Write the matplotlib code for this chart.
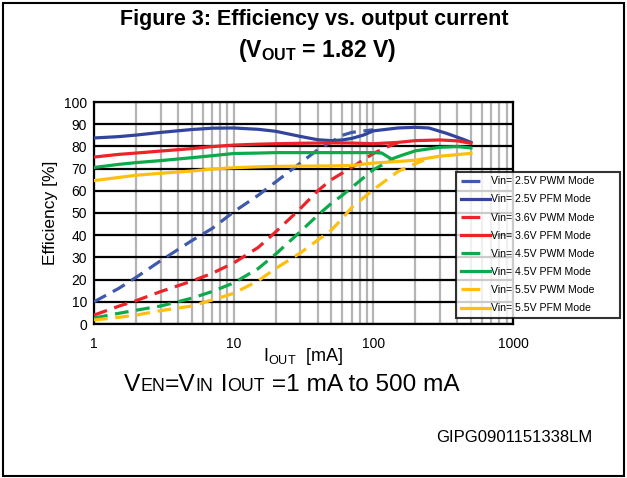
import numpy as np
import matplotlib
matplotlib.use("Agg")
import matplotlib.pyplot as plt
from matplotlib import font_manager
from matplotlib.lines import Line2D
from matplotlib.patches import Rectangle

# output current [mA] and efficiency [%]
cur_25_pwm = [1, 1.5, 2, 3, 5, 7, 10, 15, 20, 30, 40, 50, 60, 70, 100]
eff_25_pwm = [10, 16, 21, 28.5, 37.5, 43, 50.5, 58, 64, 72.5, 78.5, 82, 85, 86.3, 87.5]
cur_25_pfm = [1, 1.5, 2, 3, 5, 7, 10, 15, 20, 30, 40, 50, 60, 70, 85, 100, 150, 200, 250, 330, 440, 500]
eff_25_pfm = [83.8, 84.4, 85.1, 86.3, 87.6, 88.2, 88.3, 87.7, 86.8, 84.5, 83, 82.6, 82.9, 83.6, 85.1, 87, 88.3, 88.6, 88.3, 86, 83.2, 81.8]

cur_36_pwm = [1, 1.5, 2, 3, 5, 7, 10, 15, 20, 30, 40, 50, 60, 70, 100, 130, 150]
eff_36_pwm = [4, 8, 10.5, 14.6, 19.3, 22.8, 27.5, 34.5, 41.5, 52, 60, 65, 68, 70.5, 76.8, 80.2, 81.6]
cur_36_pfm = [1, 1.5, 2, 3, 5, 7, 10, 15, 20, 30, 50, 70, 100, 150, 200, 300, 400, 500]
eff_36_pfm = [75.2, 76.4, 77, 77.9, 79, 79.9, 80.6, 81, 81.2, 81.4, 81.6, 81.5, 81.2, 81.8, 82.6, 82.9, 82.5, 81.4]

cur_45_pwm = [1, 1.5, 2, 3, 5, 7, 10, 15, 20, 30, 40, 50, 60, 70, 100, 130, 140]
eff_45_pwm = [2.7, 4.8, 6.2, 8.1, 11.6, 14.6, 18.5, 25, 31.5, 41.6, 49, 54.3, 58, 61.5, 69.5, 73.4, 74.4]
cur_45_pfm = [1, 1.5, 2, 3, 5, 7, 10, 15, 20, 30, 50, 70, 100, 115, 135, 160, 200, 300, 400, 500]
eff_45_pfm = [70.5, 71.9, 72.7, 73.6, 74.9, 75.8, 76.8, 77, 77.2, 77.2, 77.2, 77.2, 77.2, 77, 74.3, 76, 78, 79.6, 79.9, 79.3]

cur_55_pwm = [1, 1.5, 2, 3, 5, 7, 10, 15, 20, 30, 40, 50, 60, 70, 100, 150, 190, 230]
eff_55_pwm = [1.8, 3, 4, 6, 8.1, 10.8, 13.8, 19.5, 25, 32, 37.8, 42.3, 47.5, 52.5, 60.5, 68.7, 71.6, 73.8]
cur_55_pfm = [1, 1.5, 2, 3, 5, 7, 10, 15, 20, 30, 50, 70, 100, 150, 200, 300, 400, 500]
eff_55_pfm = [64.6, 66, 67, 67.9, 68.9, 69.8, 70.4, 70.8, 71, 71.1, 71.2, 71.4, 72.5, 73.2, 73.8, 75.6, 76.3, 76.9]

labels = ["Vin= 2.5V PWM Mode", "Vin= 2.5V PFM Mode",
          "Vin= 3.6V PWM Mode", "Vin= 3.6V PFM Mode",
          "Vin= 4.5V PWM Mode", "Vin= 4.5V PFM Mode",
          "Vin= 5.5V PWM Mode", "Vin= 5.5V PFM Mode"]
x_ticks = [1, 10, 100, 1000]
y_ticks = list(range(0, 101, 10))

names = {f.name for f in font_manager.fontManager.ttflist}
base = "Liberation Sans"
narrow = "Liberation Sans Narrow" if "Liberation Sans Narrow" in names else base

plt.rcParams["font.family"] = [base, "DejaVu Sans"]
plt.rcParams["mathtext.fontset"] = "custom"
plt.rcParams["mathtext.rm"] = base
plt.rcParams["mathtext.bf"] = base + ":bold"

fig = plt.figure(figsize=(6.27, 4.78), dpi=100)
W, H = 627, 478
ax = fig.add_axes([94 / W, 1 - 324 / H, (513 - 94) / W, (324 - 102) / H])

blue = "#33449c"
blue_d = "#3f5aac"
red = "#ee2229"
green = "#0caa4b"
yellow = "#ffbf0f"
lw = 2.3
dash = (4.3, 2.4)

series = [
    (cur_25_pwm, eff_25_pwm, blue_d, True),
    (cur_25_pfm, eff_25_pfm, blue, False),
    (cur_36_pwm, eff_36_pwm, red, True),
    (cur_36_pfm, eff_36_pfm, red, False),
    (cur_45_pwm, eff_45_pwm, green, True),
    (cur_45_pfm, eff_45_pfm, green, False),
    (cur_55_pwm, eff_55_pwm, yellow, True),
    (cur_55_pfm, eff_55_pfm, yellow, False),
]
handles = []
for xs, ys, c, dashed in series:
    if dashed:
        ax.plot(xs, ys, color=c, lw=lw, dashes=dash, solid_capstyle="butt", zorder=3)
        handles.append(Line2D([], [], color=c, lw=lw, linestyle=(0, (5.9, 40))))
    else:
        ax.plot(xs, ys, color=c, lw=lw, zorder=3)
        handles.append(Line2D([], [], color=c, lw=lw))

ax.set_xscale("log")
ax.set_xlim(1, 1000)
ax.set_ylim(0, 100)
ax.set_xticks(x_ticks)
ax.set_xticklabels([str(v) for v in x_ticks])
ax.set_xticks([m * 10 ** d for d in range(3) for m in range(2, 10)], minor=True)
ax.set_yticks(y_ticks)
ax.tick_params(axis="both", which="both", length=0, labelsize=10)
ax.tick_params(axis="x", pad=9)
ax.tick_params(axis="y", pad=5)
ax.xaxis.set_minor_formatter(matplotlib.ticker.NullFormatter())
ax.grid(True, axis="x", which="both", color="#b5b5b5", lw=1.6, zorder=1)
ax.grid(True, axis="y", which="major", color="black", lw=1.6, zorder=1)
ax.set_axisbelow(True)
for s in ax.spines.values():
    s.set_linewidth(1.6)

ax.set_ylabel("Efficiency [%]", fontsize=12.5, labelpad=4)
ax.set_xlabel(r"I$_{\mathrm{OUT}}$  [mA]", fontsize=13, labelpad=-3)

leg = fig.legend(handles, labels, loc="lower left",
                 bbox_to_anchor=(456 / W, 1 - 318 / H, 164 / W, 147 / H),
                 mode="expand", fontsize=7.6, frameon=True, fancybox=False,
                 handlelength=2.75, handletextpad=0.1, labelspacing=0.77,
                 borderpad=0.45, borderaxespad=0)
leg.get_frame().set_edgecolor("black")
leg.get_frame().set_linewidth(1.5)

fig.text(314 / W, 1 - 20 / H, "Figure 3: Efficiency vs. output current",
         ha="center", va="center", fontsize=15.5, fontweight="bold", family=narrow)
fig.text(317 / W, 1 - 51 / H, r"(V$_{\mathbf{OUT}}$ = 1.82 V)",
         ha="center", va="center", fontsize=16.5, fontweight="bold", family=narrow)

# subtitle with small-caps style pieces
r = fig.canvas.get_renderer()
parts = [("V", 17.6), ("EN", 12.8), ("=V", 17.6), ("IN", 12.8), (" I", 17.6), ("OUT", 12.8),
         (" =1 mA to 500 mA", 17.6)]
x = 124 / W
for s, size in parts:
    t = fig.text(x, 1 - 391 / H, s, fontsize=size, ha="left", va="baseline")
    x += t.get_window_extent(r).width / W

fig.text(514 / W, 1 - 437 / H, "GIPG0901151338LM", ha="center", va="center", fontsize=12)

fig.add_artist(Rectangle((3 / W, 2 / H), 621 / W, 473 / H, transform=fig.transFigure,
                         fill=False, edgecolor="black", lw=1.5))

fig.savefig("out.png", dpi=100)
